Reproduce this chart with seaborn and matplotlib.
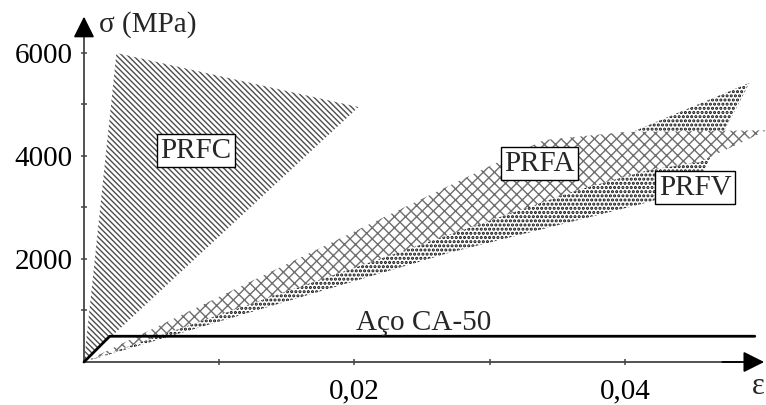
import numpy as np
import pandas as pd
import seaborn as sns
import matplotlib.pyplot as plt

# strain / stress envelopes
eps_prfc = [0.0, 0.0024, 0.0203]
sig_prfc = [0, 6000, 4950]

eps_prfv = [0.0, 0.0492, 0.0452, 0.0418, 0.0270]
sig_prfv = [0, 5420, 3400, 3107, 2120]

eps_prfa = [0.0, 0.0340, 0.0400, 0.0505, 0.0490, 0.0455, 0.0418, 0.0365]
sig_prfa = [0, 4310, 4466, 4500, 4310, 3880, 3730, 3340]

eps_aco = [0.0, 0.0019, 0.0496]
sig_aco = [0, 500, 500]

y_major = [2000, 4000, 6000]
y_minor = [1000, 3000, 5000]
x_major = [0.02, 0.04]
x_minor = [0.01, 0.03]
x_labels = ["0,02", "0,04"]

sns.set_theme(style="white")
plt.rcParams["font.family"] = ["Liberation Serif", "DejaVu Serif"]
plt.rcParams["hatch.linewidth"] = 1.0

fig = plt.figure(figsize=(7.66, 4.05), dpi=100)
ax = fig.add_axes([0, 0, 1, 1])
ax.set_xlim(-0.00621, 0.05043)
ax.set_ylim(-835, 7029)

# filled envelopes
ax.fill(eps_prfc, sig_prfc, facecolor="white", edgecolor="#4d4d4d",
        hatch="\\" * 6, linewidth=0, zorder=2)
prfv = ax.fill(eps_prfv, sig_prfv, facecolor="white", edgecolor="#111111",
               hatch="." * 4, linewidth=0, zorder=2)[0]
try:
    prfv.set_hatch_linewidth(1.5)
except AttributeError:
    pass
ax.fill(eps_prfa, sig_prfa, facecolor="white", edgecolor="#6e6e6e",
        hatch="xxx", linewidth=0, zorder=3)

# steel curve
aco = pd.DataFrame({"eps": eps_aco, "sig": sig_aco})
sns.lineplot(data=aco, x="eps", y="sig", sort=False, color="black",
             linewidth=2, ax=ax, zorder=4)

# axes through the origin with arrows
for s in ["top", "right"]:
    ax.spines[s].set_visible(False)
ax.spines["left"].set_position(("data", 0))
ax.spines["bottom"].set_position(("data", 0))
ax.spines["left"].set_bounds(0, 6500)
ax.spines["bottom"].set_bounds(0, 0.0485)
for s in ["left", "bottom"]:
    ax.spines[s].set_color("#444444")
    ax.spines[s].set_linewidth(1.3)
ax.annotate("", xy=(0, 6760), xytext=(0, 6300),
            arrowprops=dict(arrowstyle="-|>", color="black", lw=1.3,
                            mutation_scale=32), annotation_clip=False)
ax.annotate("", xy=(0.0505, 0), xytext=(0.0470, 0),
            arrowprops=dict(arrowstyle="-|>", color="black", lw=1.3,
                            mutation_scale=32), annotation_clip=False)

ax.set_yticks(y_major)
ax.set_yticks(y_minor, minor=True)
ax.set_yticklabels([str(v) for v in y_major])
ax.set_xticks(x_major)
ax.set_xticks(x_minor, minor=True)
ax.set_xticklabels(x_labels)
ax.tick_params(which="both", direction="inout", length=4, width=1.1,
               color="#444444", labelsize=21, labelcolor="black")
ax.tick_params(axis="y", pad=6)
ax.tick_params(axis="x", pad=10)
ax.tick_params(left=True, bottom=True, which="both")
ax.set_xlabel("")
ax.set_ylabel("")

# labels
box = dict(boxstyle="square,pad=0.12", fc="white", ec="black", lw=1)
ax.text(0.00828, 4097, "PRFC", fontsize=21, ha="center", va="center", bbox=box, zorder=5)
ax.text(0.0337, 3845, "PRFA", fontsize=21, ha="center", va="center", bbox=box, zorder=5)
ax.text(0.0452, 3379, "PRFV", fontsize=21, ha="center", va="center", bbox=box, zorder=5)
ax.text(0.0251, 620, "Aço CA-50", fontsize=21, ha="center", va="baseline", zorder=5)
ax.text(0.0011, 6560, "σ (MPa)", fontsize=21, ha="left", va="center")
ax.text(0.0494, -485, "ε", fontsize=22, ha="left", va="center")

fig.savefig("out.png", dpi=100)
